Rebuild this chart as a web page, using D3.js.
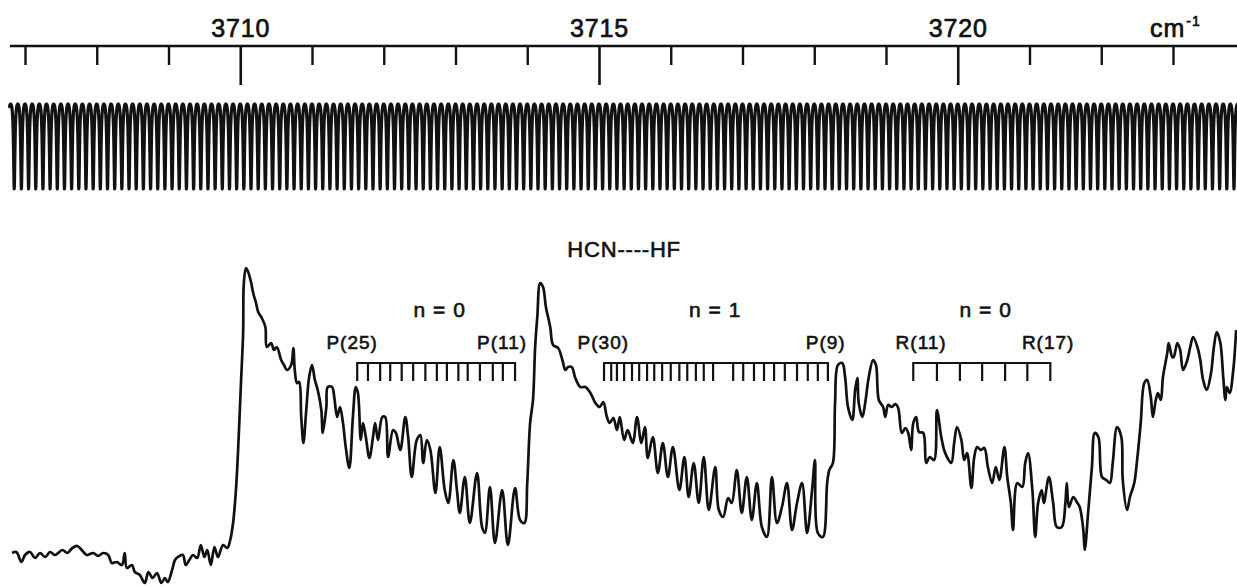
<!DOCTYPE html>
<html><head><meta charset="utf-8">
<script src="https://cdn.jsdelivr.net/npm/d3@7"></script>
<style>
body{margin:0;background:#fff}
svg{display:block}
</style>
</head><body>
<svg id="chart" width="1237" height="587"></svg>
<script>
// ---------- data ----------
const majorTicks = [3710, 3715, 3720];
const minorTicks = [3707, 3708, 3709, 3711, 3712, 3713, 3714, 3716, 3717, 3718, 3719, 3721, 3722, 3723];
const unitText = "cm";
const unitExp = "-1";
const moleculeLabel = "HCN----HF";
const moleculeLabelWn = 3715.35;

// etalon fringe trace (free spectral range)
const etalonFirstDip = 3706.75;
const etalonFSR = 0.1;
const etalonEnd = 3724.05;
const etalonFinesseF = 7;

// spectrum: wavenumber (cm-1) and signal (arb. units)
const spectrumWn = [
3706.82,3706.88,3706.95,3707.00,3707.07,3707.14,3707.21,3707.28,3707.35,3707.42,
3707.52,3707.59,3707.66,3707.73,3707.79,3707.86,3707.95,3708.02,3708.09,3708.16,
3708.21,3708.28,3708.35,3708.39,3708.42,3708.49,3708.53,3708.60,3708.67,3708.72,
3708.78,3708.84,3708.90,3708.95,3708.99,3709.05,3709.09,3709.13,3709.20,3709.24,
3709.29,3709.34,3709.40,3709.45,3709.50,3709.54,3709.59,3709.64,3709.69,3709.76,
3709.82,3709.86,3709.90,3709.94,3709.97,3710.01,3710.04,3710.05,3710.08,3710.11,
3710.15,3710.18,3710.22,3710.25,3710.30,3710.35,3710.37,3710.43,3710.47,3710.51,
3710.57,3710.61,3710.65,3710.71,3710.74,3710.76,3710.79,3710.82,3710.85,3710.88,
3710.92,3710.96,3711.00,3711.04,3711.08,3711.13,3711.15,3711.20,3711.22,3711.28,
3711.31,3711.35,3711.39,3711.43,3711.47,3711.52,3711.57,3711.61,3711.64,3711.68,
3711.71,3711.75,3711.80,3711.85,3711.88,3711.92,3711.98,3712.02,3712.06,3712.13,
3712.17,3712.23,3712.30,3712.34,3712.39,3712.46,3712.51,3712.55,3712.60,3712.65,
3712.72,3712.78,3712.85,3712.90,3712.97,3713.02,3713.06,3713.13,3713.20,3713.30,
3713.37,3713.41,3713.48,3713.55,3713.65,3713.73,3713.83,3713.90,3713.96,3714.00,
3714.04,3714.08,3714.11,3714.14,3714.18,3714.22,3714.26,3714.32,3714.36,3714.43,
3714.49,3714.53,3714.57,3714.62,3714.67,3714.74,3714.81,3714.88,3714.95,3715.01,
3715.06,3715.11,3715.15,3715.20,3715.25,3715.29,3715.35,3715.40,3715.47,3715.53,
3715.59,3715.64,3715.68,3715.75,3715.82,3715.89,3715.96,3716.03,3716.12,3716.19,
3716.25,3716.32,3716.39,3716.46,3716.53,3716.62,3716.67,3716.73,3716.80,3716.85,
3716.92,3716.99,3717.06,3717.13,3717.20,3717.27,3717.34,3717.41,3717.48,3717.55,
3717.62,3717.69,3717.76,3717.83,3717.90,3717.97,3718.01,3718.05,3718.12,3718.18,
3718.21,3718.26,3718.29,3718.33,3718.39,3718.43,3718.47,3718.53,3718.57,3718.60,
3718.62,3718.67,3718.71,3718.76,3718.82,3718.86,3718.90,3718.96,3718.99,3719.03,
3719.08,3719.13,3719.17,3719.22,3719.27,3719.31,3719.35,3719.38,3719.42,3719.46,
3719.52,3719.56,3719.61,3719.67,3719.71,3719.77,3719.81,3719.85,3719.91,3719.95,
3719.99,3720.05,3720.09,3720.13,3720.19,3720.23,3720.27,3720.32,3720.37,3720.42,
3720.48,3720.53,3720.58,3720.65,3720.69,3720.74,3720.77,3720.83,3720.90,3720.94,
3720.98,3721.04,3721.08,3721.12,3721.17,3721.20,3721.27,3721.33,3721.38,3721.45,
3721.50,3721.52,3721.55,3721.61,3721.66,3721.70,3721.75,3721.77,3721.82,3721.87,
3721.91,3721.96,3722.01,3722.07,3722.12,3722.16,3722.22,3722.28,3722.30,3722.36,
3722.40,3722.46,3722.50,3722.55,3722.60,3722.64,3722.69,3722.72,3722.76,3722.79,
3722.83,3722.86,3722.92,3722.94,3722.99,3723.01,3723.06,3723.10,3723.14,3723.20,
3723.24,3723.28,3723.34,3723.38,3723.42,3723.47,3723.53,3723.57,3723.61,3723.66,
3723.70,3723.73,3723.75,3723.79,3723.84,3723.88];
const spectrumSignal = [
37,38,28,35,38,32,37,33,38,35,
40,37,42,44,40,35,37,34,37,35,
27,28,25,37,22,25,18,15,7,18,
12,17,7,12,8,20,30,33,35,25,
30,35,32,45,33,40,25,43,33,45,
42,50,67,100,140,207,257,307,322,318,
308,297,287,278,272,263,243,247,240,243,
230,225,220,225,242,220,207,208,173,147,
180,213,225,210,200,180,157,183,203,203,
193,173,183,168,143,122,173,203,197,150,
167,153,132,153,167,150,173,173,133,160,
157,140,173,153,113,150,155,127,150,140,
97,143,100,87,130,100,77,113,67,117,
63,57,103,47,100,45,102,70,67,107,
167,190,243,273,307,303,283,263,245,242,
230,220,223,223,212,203,203,197,187,183,
188,173,167,172,160,173,150,160,147,173,
147,163,132,153,117,147,113,143,100,133,
93,127,87,133,80,123,80,73,92,87,
120,77,113,70,107,63,53,113,67,83,
107,60,87,107,57,100,130,57,53,107,
120,127,187,225,227,213,183,170,200,212,
187,173,187,213,230,225,190,183,173,185,
183,186,182,157,162,157,140,167,173,158,
157,127,133,130,180,153,140,133,127,147,
163,150,130,137,102,133,143,140,142,123,
107,123,110,143,113,87,60,107,103,127,
137,100,53,87,100,87,113,87,63,63,
87,107,83,93,88,83,60,40,80,123,
157,153,113,110,107,127,163,153,110,80,
93,107,130,167,207,210,193,173,190,197,
190,213,237,247,233,233,247,240,220,230,
243,253,243,230,210,200,217,243,258,247,
213,190,203,197,220,260];

// line assignments (comb ticks, cm-1)
const combP0 = [3711.63,3711.78,3711.95,3712.09,3712.25,3712.41,3712.58,3712.74,3712.88,3713.04,3713.17,3713.34,3713.52,3713.66,3713.83];
const combP1 = [3715.07,3715.17,3715.25,3715.35,3715.46,3715.56,3715.67,3715.77,3715.88,3716.00,3716.12,3716.23,3716.35,3716.46,3716.59,3716.87,3717.01,3717.16,3717.30,3717.44,3717.59,3717.76,3717.91,3718.05,3718.19];
const combR0 = [3719.38,3719.71,3720.03,3720.34,3720.66,3720.97,3721.29];
const bandTexts = ["n = 0", "n = 1", "n = 0"];
const bandTextWn = [3712.78, 3716.62, 3720.39];
const lineTexts = ["P(25)", "P(11)", "P(30)", "P(9)", "R(11)", "R(17)"];
const lineTextWn = [3711.56, 3713.65, 3715.06, 3718.16, 3719.49, 3721.26];

// ---------- drawing ----------
const FONT = '"Liberation Sans", Arial, Helvetica, sans-serif';
const INK = "#111";
const svg = d3.select("#chart");
const x = d3.scaleLinear().domain([3707, 3723]).range([25, 1173]);
const y = d3.scaleLinear().domain([0, 330]).range([590, 260]);

// top axis
const axisY = 46;
const gAxis = svg.append("g").attr("transform", `translate(0,${axisY})`);
gAxis.append("line").attr("x1", 10).attr("x2", 1237).attr("y1", 0).attr("y2", 0)
  .attr("stroke", INK).attr("stroke-width", 2.4);
gAxis.append("g")
  .call(d3.axisBottom(x).tickValues(minorTicks).tickSize(19).tickFormat(""))
  .call(g => g.select(".domain").remove())
  .selectAll("line").attr("stroke", INK).attr("stroke-width", 2.4);
gAxis.append("g")
  .call(d3.axisBottom(x).tickValues(majorTicks).tickSize(39).tickFormat(""))
  .call(g => g.select(".domain").remove())
  .selectAll("line").attr("stroke", INK).attr("stroke-width", 2.6);
gAxis.append("g")
  .call(d3.axisTop(x).tickValues(majorTicks).tickSize(0).tickPadding(9.5).tickFormat(d3.format("d")))
  .call(g => g.select(".domain").remove())
  .call(g => g.attr("font-family", null).attr("font-size", null))
  .selectAll("text")
  .attr("font-family", FONT).attr("font-size", 25).attr("fill", INK)
  .attr("stroke", INK).attr("stroke-width", 0.7).style("letter-spacing", "0.8px");

// unit label
const unit = svg.append("text").attr("x", x(3722.68)).attr("y", axisY - 9.5)
  .attr("font-family", FONT).attr("font-size", 25).attr("fill", INK)
  .attr("stroke", INK).attr("stroke-width", 0.7).style("letter-spacing", "1px");
unit.append("tspan").text(unitText);
unit.append("tspan").attr("font-size", 14).attr("dy", -11).attr("dx", 1).text(unitExp);

// etalon fringes
const fringeY = d3.scaleLinear().domain([0, 1]).range([104, 189]);
const fringePts = [];
const step = etalonFSR / 48;
const base = 1 / (1 + etalonFinesseF);
for (let wn = etalonFirstDip + 0.035; wn <= etalonEnd; wn += step) {
  const phi = (wn - etalonFirstDip) / etalonFSR;
  const s = Math.sin(Math.PI * phi);
  const dip = (1 / (1 + etalonFinesseF * s * s) - base) / (1 - base);
  fringePts.push([wn, dip]);
}
svg.append("path")
  .attr("d", d3.line().x(d => x(d[0])).y(d => fringeY(d[1]))(fringePts))
  .attr("fill", "none").attr("stroke", INK).attr("stroke-width", 3.2)
  .attr("stroke-linejoin", "round").attr("stroke-linecap", "round");

// molecule label
svg.append("text").attr("x", x(moleculeLabelWn)).attr("y", 257)
  .attr("text-anchor", "middle").attr("font-family", FONT).attr("font-size", 22)
  .attr("fill", INK).attr("stroke", INK).attr("stroke-width", 0.6)
  .style("letter-spacing", "0.8px").text(moleculeLabel);

// spectrum
const spec = spectrumWn.map((w, i) => [w, spectrumSignal[i]]);
svg.append("path")
  .attr("d", d3.line().x(d => x(d[0])).y(d => y(d[1])).curve(d3.curveCatmullRom.alpha(0.5))(spec))
  .attr("fill", "none").attr("stroke", INK).attr("stroke-width", 2.7)
  .attr("stroke-linejoin", "round");

// combs
const combTop = 363, combBottom = 381;
[combP0, combP1, combR0].forEach(ticks => {
  const g = svg.append("g").attr("stroke", INK).attr("stroke-width", 2.2);
  g.append("line").attr("x1", x(ticks[0]) - 1).attr("x2", x(ticks[ticks.length - 1]) + 1)
    .attr("y1", combTop).attr("y2", combTop);
  g.selectAll("line.t").data(ticks).join("line").attr("class", "t")
    .attr("x1", d => x(d)).attr("x2", d => x(d))
    .attr("y1", combTop).attr("y2", combBottom);
});

// band labels
svg.selectAll("text.band").data(bandTexts).join("text").attr("class", "band")
  .attr("x", (d, i) => x(bandTextWn[i])).attr("y", 316.5)
  .attr("text-anchor", "middle").attr("font-family", FONT).attr("font-size", 21)
  .attr("fill", INK).attr("stroke", INK).attr("stroke-width", 0.6)
  .style("letter-spacing", "1px").text(d => d);

svg.selectAll("text.line").data(lineTexts).join("text").attr("class", "line")
  .attr("x", (d, i) => x(lineTextWn[i])).attr("y", 349)
  .attr("text-anchor", "middle").attr("font-family", FONT).attr("font-size", 19)
  .attr("fill", INK).attr("stroke", INK).attr("stroke-width", 0.6)
  .style("letter-spacing", "1px").text(d => d);
</script>
</body></html>
